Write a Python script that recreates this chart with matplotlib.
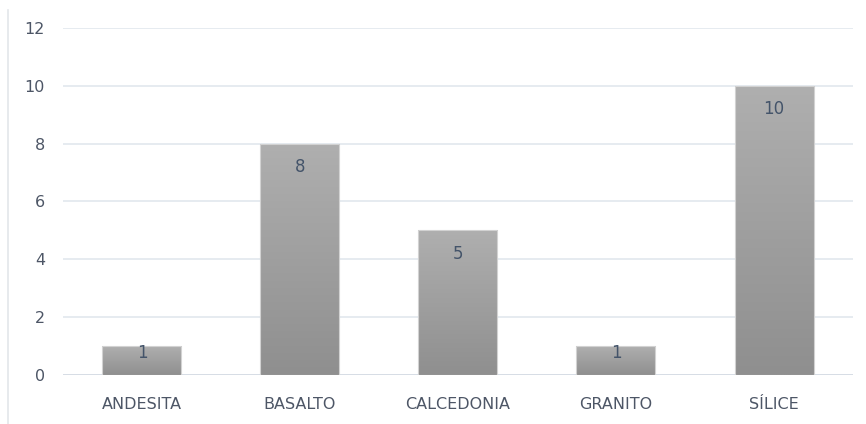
import numpy as np
import matplotlib
matplotlib.use("Agg")
import matplotlib.pyplot as plt
from matplotlib.colors import LinearSegmentedColormap

categories = ["ANDESITA", "BASALTO", "CALCEDONIA", "GRANITO", "SÍLICE"]
values = [1, 8, 5, 1, 10]
y_ticks = [0, 2, 4, 6, 8, 10, 12]

plt.rcParams['font.family'] = ['DejaVu Sans']

fig = plt.figure(figsize=(8.66, 4.24), dpi=100)
ax = fig.add_axes([0.0727, 0.1156, 0.9123, 0.8184])

# light frame line along the left side of the chart area
fig.add_artist(plt.Line2D([8 / 866, 8 / 866], [0, 1 - 10 / 424],
                          transform=fig.transFigure, color="#e3e6ea", lw=1.2))

grad = LinearSegmentedColormap.from_list("bar", ["#8f8f8f", "#afafaf"])
bar_w = 0.5
xs = np.arange(len(categories))
bars = ax.bar(xs, values, width=bar_w, color="none", edgecolor="#d2d2d2",
              linewidth=0.8, zorder=3)
for rect in bars:
    x0, y0 = rect.get_x(), rect.get_y()
    w, h = rect.get_width(), rect.get_height()
    img = ax.imshow(np.linspace(0, 1, 256).reshape(-1, 1),
                    extent=[x0, x0 + w, y0, y0 + h], origin="lower",
                    cmap=grad, vmin=0, vmax=1, aspect="auto", zorder=2)
    img.set_clip_path(rect)

for x, v in zip(xs, values):
    ax.text(x, v - min(0.8, 0.25 * v), str(v), ha="center", va="center",
            fontsize=12, color="#44546a", zorder=4)

ax.set_xlim(-0.5, len(categories) - 0.5)
ax.set_ylim(0, 12)
ax.set_yticks(y_ticks)
ax.set_xticks(xs)
ax.set_xticklabels(categories)
ax.yaxis.grid(True, color="#dfe5ec", lw=1.1, zorder=0)
ax.set_axisbelow(True)
for s in ax.spines.values():
    s.set_visible(False)
ax.axhline(0, color="#d5dbe3", lw=1.2, zorder=1)
ax.tick_params(axis="both", length=0, labelsize=11.5, colors="#4d5666")
ax.tick_params(axis="y", pad=13)
ax.tick_params(axis="x", pad=16)

fig.savefig("out.png", dpi=100, facecolor="white")
